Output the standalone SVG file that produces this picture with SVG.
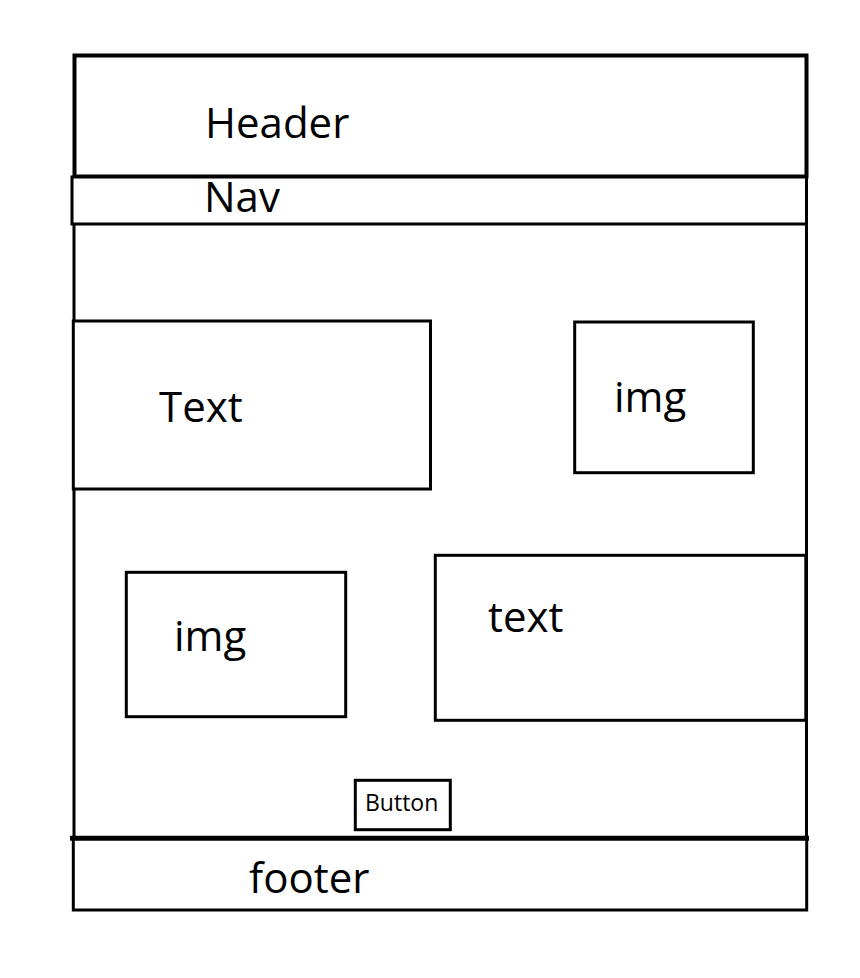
<svg xmlns="http://www.w3.org/2000/svg" width="860" height="978" viewBox="0 0 860 978">
<style>
.s { fill: #fff; stroke: #000; }
.box { stroke-width: 3; }
.lbl { font-family: "Open Sans", "Noto Sans", sans-serif; font-size: 42px; fill: #000; }
.small { font-family: "Open Sans", "Noto Sans", sans-serif; font-size: 23px; fill: #000; }
</style>
<rect width="860" height="978" fill="#fff"/>
<g id="main">
  <line class="s" x1="74" y1="224" x2="74" y2="838" stroke-width="3"/>
  <line class="s" x1="806.5" y1="224" x2="806.5" y2="838" stroke-width="3"/>
</g>
<g id="header">
  <rect class="s" x="74.5" y="55.5" width="732" height="121" stroke-width="4"/>
  <text class="lbl" x="205" y="138">Header</text>
</g>
<g id="nav">
  <rect class="s" x="72" y="177" width="734.5" height="47" stroke-width="3"/>
  <text class="lbl" x="204" y="212">Nav</text>
</g>
<g id="text1">
  <rect class="s box" x="73.3" y="321" width="357.2" height="168"/>
  <text class="lbl" x="159" y="422">Text</text>
</g>
<g id="img1">
  <rect class="s box" x="574.7" y="322" width="178.6" height="150.7"/>
  <text class="lbl" x="614" y="412">img</text>
</g>
<g id="img2">
  <rect class="s box" x="126.3" y="572.3" width="219.4" height="144.4"/>
  <text class="lbl" x="174" y="651">img</text>
</g>
<g id="text2">
  <rect class="s box" x="435.3" y="555.3" width="370.5" height="165"/>
  <text class="lbl" x="488" y="632">text</text>
</g>
<g id="button">
  <rect class="s box" x="355.3" y="780.3" width="95" height="49.4"/>
  <text class="small" x="365" y="811">Button</text>
</g>
<g id="footer">
  <rect class="s" x="73.3" y="838.2" width="733.4" height="71.8" stroke-width="3"/>
  <line class="s" x1="70" y1="838.2" x2="809" y2="838.2" stroke-width="5"/>
  <text class="lbl" x="249" y="893">footer</text>
</g>
</svg>
